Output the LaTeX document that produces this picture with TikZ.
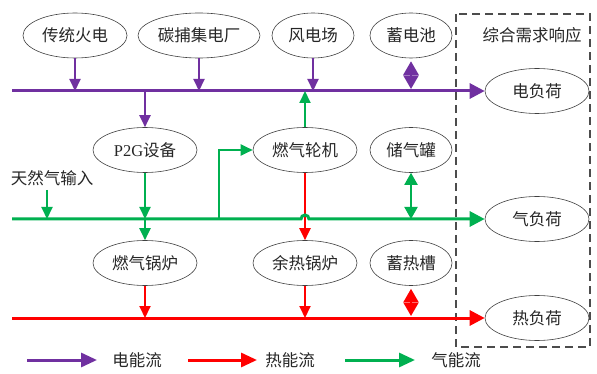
\documentclass[tikz,border=0pt]{standalone}
\usepackage{fontspec}
\setmainfont{Liberation Serif}
\newfontfamily\cjk{Noto Sans CJK SC}
\newfontfamily\latf{Liberation Serif}
\usetikzlibrary{arrows.meta,shapes.geometric}
\definecolor{epur}{RGB}{112,48,160}
\definecolor{ggrn}{RGB}{0,176,80}
\definecolor{hred}{RGB}{255,0,0}
\newcommand{\lblfont}{\cjk\fontsize{16.5}{19}\selectfont}
\tikzset{
  eg/.style={ellipse, draw=black!75, line width=0.6pt, minimum width=104pt, minimum height=45pt, inner sep=0pt, font=\lblfont, text=black!85},
  egs/.style={eg, minimum width=82pt},
  plain/.style={inner sep=0pt, font=\lblfont, text=black!85},
  bigtip/.style={-{Triangle[length=15pt,width=15pt]}},
  smtip/.style={-{Triangle[length=12pt,width=11pt]}},
  bitip/.style={{Triangle[length=13.5pt,width=15pt]}-{Triangle[length=13.5pt,width=15pt]}},
  bitipg/.style={{Triangle[length=12pt,width=13pt]}-{Triangle[length=12pt,width=13pt]}},
  ebus/.style={draw=epur, line width=3pt, bigtip},
  gbus/.style={draw=ggrn, line width=3pt, bigtip},
  hbus/.style={draw=hred, line width=3pt, bigtip},
  parr/.style={draw=epur, line width=2pt, smtip},
  garr/.style={draw=ggrn, line width=2pt, smtip},
  rarr/.style={draw=hred, line width=2pt, smtip},
  legarr/.style={line width=3pt, -{Triangle[length=16pt,width=14pt]}},
  dbox/.style={draw=black!70, line width=1.4pt, dash pattern=on 8pt off 5pt},
}
\begin{document}
\begin{tikzpicture}[x=1pt,y=-1pt]
\useasboundingbox (0,0) rectangle (597,374);
\draw[dbox] (456,14) rectangle (590,347);

% nodes
\node[eg, minimum width=104pt] (tf) at (75,35.5) {传统火电};
\node[eg, minimum width=122pt] (tb) at (199,35.5) {碳捕集电厂};
\node[egs] (wf) at (313,35.5) {风电场};
\node[egs] (bt) at (411,35.5) {蓄电池};
\node[plain] (dr) at (532,35) {综合需求响应};
\node[eg] (el) at (537,91) {电负荷};
\node[eg] (p2g) at (145,150) {{\latf P2G}设备};
\node[eg] (gt) at (305,150) {燃气轮机};
\node[egs] (gs) at (411,150) {储气罐};
\node[plain] (ng) at (52,178) {天然气输入};
\node[eg] (gl) at (537,219) {气负荷};
\node[eg] (gb) at (145,263) {燃气锅炉};
\node[eg] (hb) at (305,263) {余热锅炉};
\node[egs] (hs) at (411,263) {蓄热槽};
\node[eg] (hl) at (537,318) {热负荷};

\coordinate (eS) at (12,91);
\coordinate (gS) at (12,219);
\coordinate (hS) at (12,318);
\coordinate (br) at (219,219);
\coordinate (ngA) at (47,190);
\coordinate (hopL) at (301,219);

% electric
\draw[ebus] (eS) -- (el.west);
\draw[parr] (tf.south) -- (tf.south |- eS);
\draw[parr] (tb.south) -- (tb.south |- eS);
\draw[parr] (wf.south) -- (wf.south |- eS);
\draw[parr] (p2g.north |- eS) -- (p2g.north);
\draw[draw=epur, line width=2pt, bitip] ([yshift=-3pt]bt.south) -- ([yshift=2pt]bt.south |- eS);
\draw[garr] (gt.north) -- (gt.north |- eS);

% heat
\draw[rarr] (gt.south) -- (hb.north);
\draw[hbus] (hS) -- (hl.west);
\draw[rarr] (gb.south) -- (gb.south |- hS);
\draw[rarr] (hb.south) -- (hb.south |- hS);
\draw[draw=hred, line width=2pt, bitip] ([yshift=-3pt]hs.south) -- ([yshift=2pt]hs.south |- hS);

% gas
\draw[gbus] (gS) -- (hopL) arc[start angle=180, end angle=360, radius=4] -- (gl.west);
\draw[garr] (br) |- (gt.west);
\draw[garr] (p2g.south) -- (p2g.south |- gS);
\draw[garr] (gb.north |- gS) -- (gb.north);
\draw[garr] (ngA) -- (ngA |- gS);
\draw[draw=ggrn, line width=2pt, bitipg] (gs.south) -- (gs.south |- gS);

% legend
\coordinate (l1a) at (27,360); \coordinate (l1b) at (97,360);
\coordinate (l2a) at (188,360); \coordinate (l2b) at (257,360);
\coordinate (l3a) at (345,360); \coordinate (l3b) at (415,360);
\draw[legarr, draw=epur] (l1a) -- (l1b);
\draw[legarr, draw=hred] (l2a) -- (l2b);
\draw[legarr, draw=ggrn] (l3a) -- (l3b);
\node[plain] (t1) at (137,360) {电能流};
\node[plain] (t2) at (290,360) {热能流};
\node[plain] (t3) at (456,360) {气能流};
\end{tikzpicture}
\end{document}
